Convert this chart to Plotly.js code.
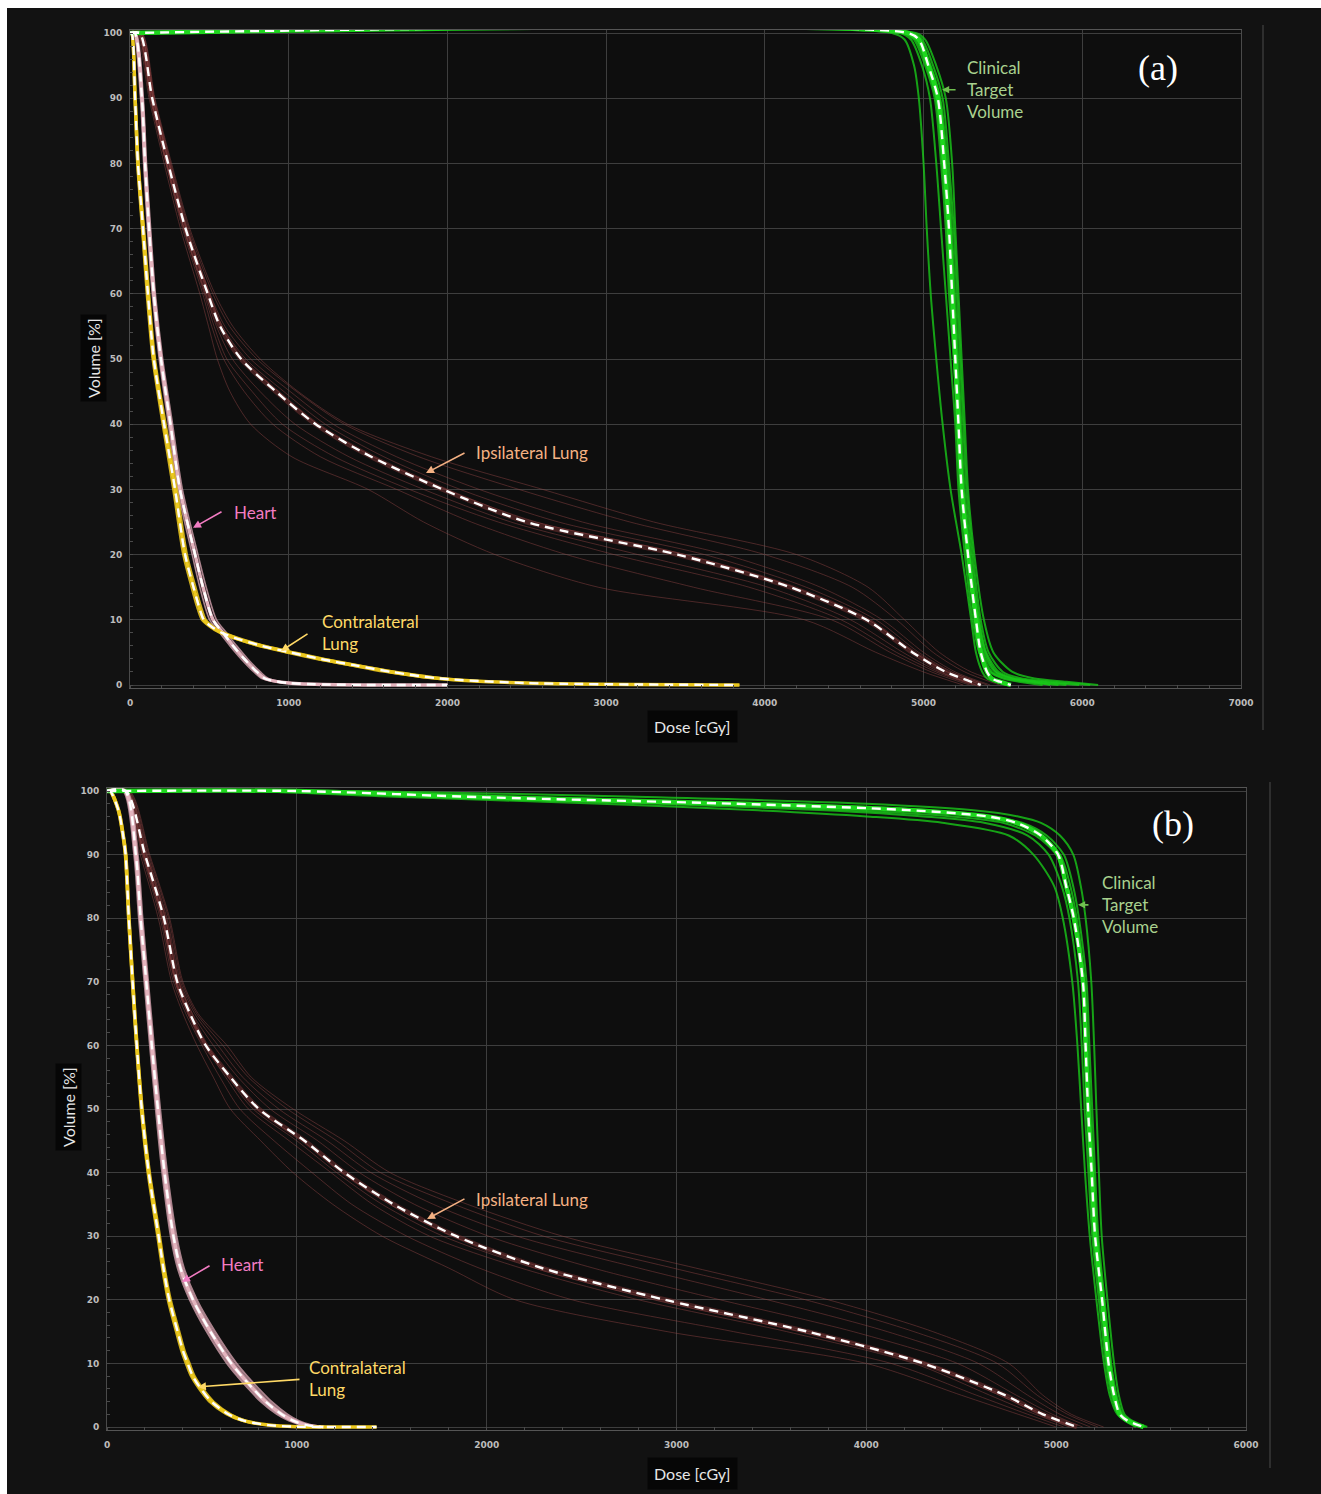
<!DOCTYPE html>
<html><head><meta charset="utf-8">
<script src="https://cdn.plot.ly/plotly-3.0.1.min.js"></script>
<style>html,body{margin:0;padding:0;background:#fff;overflow:hidden;width:1321px;height:1494px}
#plot{position:absolute;left:7px;top:8px;width:1314px;height:1486px}</style>
</head><body><div id="plot"></div>
<script>
// ---------------- DATA: panel (a) ----------------
const doseTicksA = [0,1000,2000,3000,4000,5000,6000,7000];
const volTicks = [0,10,20,30,40,50,60,70,80,90,100];

// Ipsilateral lung (a): volume grid + dose of each curve at that volume
const ipsiGridA = [100,100,90,80,70,60,55,50,45,40,35,30,25,20,15,10,5,2,0];
const ipsiMeanA = [0,60,140,240,350,490,568,700,920,1170,1520,1970,2500,3450,4160,4640,4930,5140,5360];
const ipsiA1 = [0,40,120,215,318,440,495,550,630,760,1020,1500,1850,2300,2950,4250,4700,5000,5250];
const ipsiA2 = [0,48,128,226,330,458,515,590,720,900,1200,1680,2150,2750,3550,4420,4790,5050,5290];
const ipsiA3 = [0,55,135,233,342,475,545,645,820,1040,1380,1850,2400,3200,4020,4540,4870,5100,5330];
const ipsiA4 = [0,62,143,243,352,492,572,705,935,1180,1530,1990,2560,3500,4180,4650,4940,5150,5370];
const ipsiA5 = [0,66,148,250,360,505,598,760,1010,1280,1680,2200,2850,3750,4350,4740,5000,5200,5420];
const ipsiA6 = [0,72,153,257,370,522,628,800,1050,1350,1820,2450,3150,4000,4550,4830,5060,5260,5480];
const ipsiA7 = [0,76,157,262,377,535,648,820,1060,1370,1900,2600,3300,4200,4650,4880,5100,5300,5550];
const ipsiA8 = [0,52,132,230,338,468,530,610,770,960,1290,1760,2320,3050,3900,4480,4830,5080,5310];
const ipsiA9 = [0,64,145,246,356,498,582,730,970,1230,1600,2080,2700,3620,4260,4700,4970,5180,5400];

// Heart (a)
const heartGridA = [100,100,90,80,70,60,50,40,30,20,15,10,8,6,4,2,1,0.3,0];
const heartMeanA = [0,30,75,95,120,150,195,255,315,410,460,523,586,650,720,800,850,1000,2000];
const heartA1 = [0,22,66,86,110,140,184,242,300,392,440,502,565,630,700,780,830,980,1850];
const heartA2 = [0,38,84,104,130,160,206,268,330,428,480,545,608,672,742,822,872,1030,2000];
// Contralateral lung (a)
const contraGridA = [100,100,90,80,70,60,50,40,30,20,15,12,10,9,8,7,6,5,4,3,2,1,0.3,0];
const contraMeanA = [0,10,32,50,82,113,150,215,284,347,400,435,465,510,580,690,830,1010,1200,1420,1650,1950,2500,3840];
const contraA1 = [0,6,26,43,73,103,140,203,270,333,385,420,450,495,560,665,800,975,1160,1380,1600,1900,2450,3750];
const contraA2 = [0,14,38,57,91,123,160,227,298,361,415,450,480,525,600,715,860,1045,1240,1460,1700,2000,2550,3840];

// CTV (a)
const ctvGridA = [100,100,99,95,90,80,70,60,50,40,30,20,10,5,2,1,0.5,0];
const ctvMeanA = [0,4900,4970,5030,5090,5130,5160,5180,5200,5220,5240,5280,5330,5360,5400,5430,5480,5550];
const ctvA1 = [0,4800,4880,4940,4970,5000,5020,5045,5080,5120,5170,5240,5300,5330,5370,5400,5450,5520];
const ctvA2 = [0,4850,4920,4990,5040,5080,5110,5140,5170,5200,5220,5260,5310,5350,5420,5500,5600,5750];
const ctvA3 = [0,4900,4960,5040,5100,5140,5170,5190,5210,5230,5250,5290,5340,5380,5450,5550,5700,5900];
const ctvA4 = [0,4920,4990,5060,5120,5160,5190,5210,5230,5250,5270,5310,5360,5410,5500,5620,5800,6050];
const ctvA5 = [0,4950,5010,5080,5140,5180,5200,5220,5240,5260,5280,5320,5380,5440,5560,5700,5900,6100];
const ctvA6 = [0,4880,4940,5010,5070,5110,5140,5160,5190,5210,5235,5275,5330,5370,5430,5520,5650,5850];
const ctvA7 = [0,4910,4975,5045,5105,5150,5178,5198,5218,5238,5258,5300,5350,5395,5475,5580,5750,5980];
const ctvA8 = [0,4870,4950,5020,5080,5120,5150,5172,5195,5215,5242,5285,5345,5390,5460,5560,5680,5800];

// ---------------- DATA: panel (b) ----------------
const doseTicksB = [0,1000,2000,3000,4000,5000,6000];
const ipsiGridB = [100,100,90,80,70,65,60,55,50,45,40,35,30,25,20,15,10,5,2,0];
const ipsiMeanB = [0,100,200,300,370,437,520,650,800,1040,1250,1510,1840,2290,2940,3690,4300,4730,4930,5110];
const ipsiB1 = [0,80,175,270,340,400,474,560,650,810,980,1190,1450,1800,2150,2950,4000,4500,4800,5000];
const ipsiB2 = [0,88,184,280,350,415,500,595,700,880,1080,1290,1580,1960,2450,3300,4130,4580,4850,5040];
const ipsiB3 = [0,93,190,287,358,425,515,625,745,960,1180,1400,1700,2180,2800,3580,4250,4650,4890,5070];
const ipsiB4 = [0,100,198,296,366,434,528,648,790,1030,1240,1490,1820,2300,2930,3700,4320,4720,4930,5100];
const ipsiB5 = [0,106,207,307,378,450,560,690,860,1110,1330,1620,2010,2560,3230,3930,4480,4790,4980,5140];
const ipsiB6 = [0,111,214,316,387,462,585,715,905,1160,1390,1720,2160,2800,3480,4110,4590,4850,5020,5180];
const ipsiB7 = [0,116,220,324,394,472,610,745,950,1210,1440,1830,2300,2980,3680,4250,4690,4900,5060,5220];
const ipsiB8 = [0,120,225,330,400,480,632,760,980,1250,1491,1900,2400,3100,3800,4350,4750,4930,5080,5250];
const ipsiB9 = [0,97,194,292,362,430,522,638,770,1000,1210,1450,1770,2250,2880,3650,4290,4700,4915,5090];

// Heart (b)
const heartGridB = [100,100,90,80,70,60,50,40,30,25,20,15,10,8,6,4,2,1,0.3,0];
const heartMeanB = [0,95,152,177,207,236,268,303,350,387,453,545,655,710,770,835,920,980,1050,1140];
const heartB1 = [0,86,143,168,197,226,257,291,336,372,436,525,632,686,746,810,895,958,1030,1110];
const heartB2 = [0,90,148,173,202,231,263,297,343,380,445,536,644,698,758,822,908,970,1040,1125];
const heartB3 = [0,100,157,182,212,242,274,310,358,396,463,557,668,724,785,850,935,995,1062,1150];
const heartB4 = [0,104,162,187,217,247,280,317,366,405,473,569,682,738,800,866,950,1008,1075,1160];
// Contralateral lung (b)
const contraGridB = [100,100,97,93,90,80,70,60,50,40,30,25,20,15,12,10,8,6,4,2,1,0.3,0.05,0];
const contraMeanB = [0,16,60,85,98,115,135,157,183,220,272,297,328,372,400,425,452,495,550,640,720,850,1000,1420];
const contraB1 = [0,12,54,79,92,109,129,151,176,212,263,288,318,361,389,413,440,482,536,625,705,835,985,1400];
const contraB2 = [0,20,66,91,104,121,141,163,190,228,281,306,338,383,411,437,464,508,564,655,735,865,1010,1420];

// CTV (b)
const ctvGridB = [100,100,99,98,97,96,95,93,90,85,80,70,60,50,40,30,20,10,5,2,1,0];
const ctvMeanB = [0,1000,2000,3300,4220,4640,4790,4920,5010,5053,5093,5141,5155,5168,5187,5205,5242,5276,5305,5335,5375,5460];
const ctvB1 = [0,700,1600,2600,3400,4000,4400,4750,4880,4990,5035,5085,5112,5132,5152,5177,5212,5252,5282,5322,5362,5420];
const ctvB2 = [0,850,1800,2900,3750,4300,4620,4850,4960,5030,5070,5115,5135,5150,5170,5190,5225,5262,5292,5330,5370,5440];
const ctvB3 = [0,1100,2300,3600,4300,4650,4820,4950,5040,5090,5120,5160,5175,5190,5205,5222,5255,5290,5318,5350,5390,5470];
const ctvB4 = [0,1300,2900,4000,4550,4800,4920,5020,5090,5130,5155,5185,5200,5212,5225,5240,5270,5305,5330,5360,5400,5480];
const ctvB5 = [0,900,2000,3100,3900,4450,4720,4890,5000,5060,5095,5140,5160,5175,5190,5210,5245,5280,5305,5340,5380,5455];
const ctvB6 = [0,1000,2150,3400,4150,4580,4770,4910,5020,5075,5108,5150,5166,5180,5197,5215,5250,5285,5312,5345,5385,5462];

// ---------------- STYLE / BUILD ----------------
const W = 1314, H = 1486, OX = 7, OY = 8;
const px2fx = p => (p - OX) / W;
const px2fy = p => 1 - (p - OY) / H;

const C = {
  ctv: 'rgba(25,200,25,0.8)', ctvMean: 'rgb(30,215,30)',
  ipsi: 'rgba(150,72,72,0.45)', ipsiMean: 'rgba(115,50,50,0.55)',
  heart: 'rgba(210,160,172,0.8)', heartMean: 'rgb(228,180,190)',
  contra: 'rgba(225,190,30,0.9)', contraMean: 'rgb(235,200,30)'
};
const traces = [];
const sm = 0.8;
function line(ax, xs, ys, color, w, dash) {
  traces.push({x: xs, y: ys, xaxis: ax[0], yaxis: ax[1], type: 'scatter', mode: 'lines',
    line: {color: color, width: w, dash: dash || 'solid', shape: 'spline', smoothing: sm}, hoverinfo: 'skip', showlegend: false});
}
function bundle(ax, grid, curves, color, w) { curves.forEach(d => line(ax, d, grid, color, w)); }
function dashed(ax, xs, ys) { line(ax, xs, ys, '#ffffff', 2.4, '9px,6px'); }
const A = ['x', 'y'], B = ['x2', 'y2'];

// panel a
line(A, ipsiMeanA, ipsiGridA, C.ipsiMean, 5);
bundle(A, ipsiGridA, [ipsiA1, ipsiA2, ipsiA3, ipsiA4, ipsiA5, ipsiA6, ipsiA7, ipsiA8, ipsiA9], C.ipsi, 1);
bundle(A, heartGridA, [heartA1, heartA2], C.heart, 1.6);
bundle(A, contraGridA, [contraA1, contraA2], C.contra, 1.6);
line(A, heartMeanA, heartGridA, C.heartMean, 3.5);
line(A, contraMeanA, contraGridA, C.contraMean, 3.5);
bundle(A, ctvGridA, [ctvA1, ctvA2, ctvA3, ctvA4, ctvA5, ctvA6, ctvA7, ctvA8], C.ctv, 2);
line(A, ctvMeanA, ctvGridA, C.ctvMean, 4.5);
dashed(A, ipsiMeanA, ipsiGridA);
dashed(A, heartMeanA, heartGridA);
dashed(A, contraMeanA, contraGridA);
dashed(A, ctvMeanA, ctvGridA);

// panel b
line(B, ipsiMeanB, ipsiGridB, C.ipsiMean, 5);
bundle(B, ipsiGridB, [ipsiB1, ipsiB2, ipsiB3, ipsiB4, ipsiB5, ipsiB6, ipsiB7, ipsiB8, ipsiB9], C.ipsi, 1);
bundle(B, heartGridB, [heartB1, heartB2, heartB3, heartB4], C.heart, 2);
bundle(B, contraGridB, [contraB1, contraB2], C.contra, 1.6);
line(B, heartMeanB, heartGridB, C.heartMean, 3.5);
line(B, contraMeanB, contraGridB, C.contraMean, 3.5);
bundle(B, ctvGridB, [ctvB1, ctvB2, ctvB3, ctvB4, ctvB5, ctvB6], C.ctv, 2);
line(B, ctvMeanB, ctvGridB, C.ctvMean, 4.5);
dashed(B, ipsiMeanB, ipsiGridB);
dashed(B, heartMeanB, heartGridB);
dashed(B, contraMeanB, contraGridB);
dashed(B, ctvMeanB, ctvGridB);

// axes geometry (pixel positions of the reference)
const GA = {x0: 130, x1: 1241, y100: 33, y0: 685, xmax: 7000};
const GB = {x0: 107, x1: 1246, y100: 791, y0: 1427, xmax: 6000};
const YR = [-0.5, 100.5];
function yDom(g) { const u = (g.y0 - g.y100) / 100; return [px2fy(g.y0 + 0.5 * u), px2fy(g.y100 - 0.5 * u)]; }

const tickFont = {family: 'DejaVu Sans', size: 9, color: '#bdbdbd', weight: 'bold'};
function xAxis(g, ticks, anchor) {
  return {domain: [px2fx(g.x0), px2fx(g.x1)], range: [0, g.xmax], anchor: anchor, tickvals: ticks,
    showgrid: true, gridcolor: '#3e3e3e', gridwidth: 1, zeroline: false, showline: true, linecolor: '#555', mirror: true,
    ticks: '', tickfont: tickFont, ticklabelstandoff: 6,
    minor: {dtick: 200, ticks: 'inside', ticklen: 3, tickcolor: '#4a4a4a', showgrid: false}};
}
function yAxis(g, anchor) {
  return {domain: yDom(g), range: YR, anchor: anchor, tickvals: volTicks,
    showgrid: true, gridcolor: '#3e3e3e', gridwidth: 1, zeroline: false, showline: true, linecolor: '#4a4a4a', mirror: true,
    ticks: '', tickfont: tickFont, ticklabelstandoff: 5,
    minor: {dtick: 2, ticks: 'inside', ticklen: 3, tickcolor: '#4a4a4a', showgrid: false}};
}

const lblFont = (c, s) => ({family: 'Lato, Open Sans, sans-serif', size: s || 17, color: c});
const COL = {ctv: '#a9d18e', ctvArrow: '#70c050', ipsi: '#f4b183', heart: '#f27cc2', contra: '#ffd966'};
const ann = [];
function text(xr, yr, x, y, t, c) {
  ann.push({xref: xr, yref: yr, x: x, y: y, text: t, showarrow: false, xanchor: 'left', yanchor: 'middle', align: 'left', font: lblFont(c)});
}
function arrow(xr, yr, x, y, ax, ay, c, hs) {
  ann.push({xref: xr, yref: yr, axref: xr, ayref: yr, x: x, y: y, ax: ax, ay: ay, text: '', showarrow: true,
    arrowhead: 2, arrowsize: hs || 1, arrowwidth: 1.6, arrowcolor: c});
}
// panel a labels
text('x', 'y', 5258, 91.3, 'Clinical<br>Target<br>Volume', COL.ctv);
arrow('x', 'y', 5116, 91.3, 5211, 91.3, COL.ctvArrow, 0.9);
text('x', 'y', 2170, 35.6, 'Ipsilateral Lung', COL.ipsi);
arrow('x', 'y', 1865, 32.5, 2117, 35.7, COL.ipsi);
text('x', 'y', 640, 26.5, 'Heart', COL.heart);
arrow('x', 'y', 397, 24.1, 586, 26.7, COL.heart);
text('x', 'y', 1195, 8.1, 'Contralateral<br>Lung', COL.contra);
arrow('x', 'y', 951, 5.2, 1128, 8.0, COL.contra);
ann.push({xref: 'x', yref: 'y', x: 6477, y: 94.6, text: '(a)', showarrow: false, font: {family: 'Liberation Serif, Times New Roman, serif', size: 36, color: '#ffffff'}});
// panel b labels
text('x2', 'y2', 5230, 82.1, 'Clinical<br>Target<br>Volume', COL.ctv);
arrow('x2', 'y2', 5115, 82.1, 5178, 82.1, COL.ctvArrow, 0.9);
text('x2', 'y2', 1935, 35.8, 'Ipsilateral Lung', COL.ipsi);
arrow('x2', 'y2', 1686, 32.7, 1891, 36.0, COL.ipsi);
text('x2', 'y2', 592, 25.5, 'Heart', COL.heart);
arrow('x2', 'y2', 395, 22.8, 548, 25.5, COL.heart);
text('x2', 'y2', 1056, 7.7, 'Contralateral<br>Lung', COL.contra);
arrow('x2', 'y2', 479, 6.3, 1022, 7.5, COL.contra);
ann.push({xref: 'x2', yref: 'y2', x: 5616, y: 94.8, text: '(b)', showarrow: false, font: {family: 'Liberation Serif, Times New Roman, serif', size: 36, color: '#ffffff'}});
// axis titles
function axTitle(xp, yp, t, rot) {
  ann.push({xref: 'paper', yref: 'paper', x: px2fx(xp), y: px2fy(yp), text: t, showarrow: false, textangle: rot || 0,
    xanchor: 'center', yanchor: 'middle', bgcolor: '#060606', borderpad: rot ? 3 : 6, font: lblFont('#e6e6e6', 16)});
}
axTitle(93, 358, 'Volume [%]', -90);
axTitle(692, 727, 'Dose [cGy]');
axTitle(68, 1107, 'Volume [%]', -90);
axTitle(692, 1473, 'Dose [cGy]');

const shapes = [
  {type: 'line', xref: 'paper', yref: 'paper', x0: px2fx(1263), x1: px2fx(1263), y0: px2fy(25), y1: px2fy(730), line: {color: '#2e2e2e', width: 2}},
  {type: 'line', xref: 'paper', yref: 'paper', x0: px2fx(1270), x1: px2fx(1270), y0: px2fy(782), y1: px2fy(1468), line: {color: '#2e2e2e', width: 2}}
];

const layout = {
  width: W, height: H, margin: {l: 0, r: 0, t: 0, b: 0}, showlegend: false,
  paper_bgcolor: '#121212', plot_bgcolor: '#0e0e0e',
  xaxis: xAxis(GA, doseTicksA, 'y'), yaxis: yAxis(GA, 'x'),
  xaxis2: xAxis(GB, doseTicksB, 'y2'), yaxis2: yAxis(GB, 'x2'),
  annotations: ann, shapes: shapes
};
Plotly.newPlot('plot', traces, layout, {staticPlot: true, displayModeBar: false});
</script></body></html>
